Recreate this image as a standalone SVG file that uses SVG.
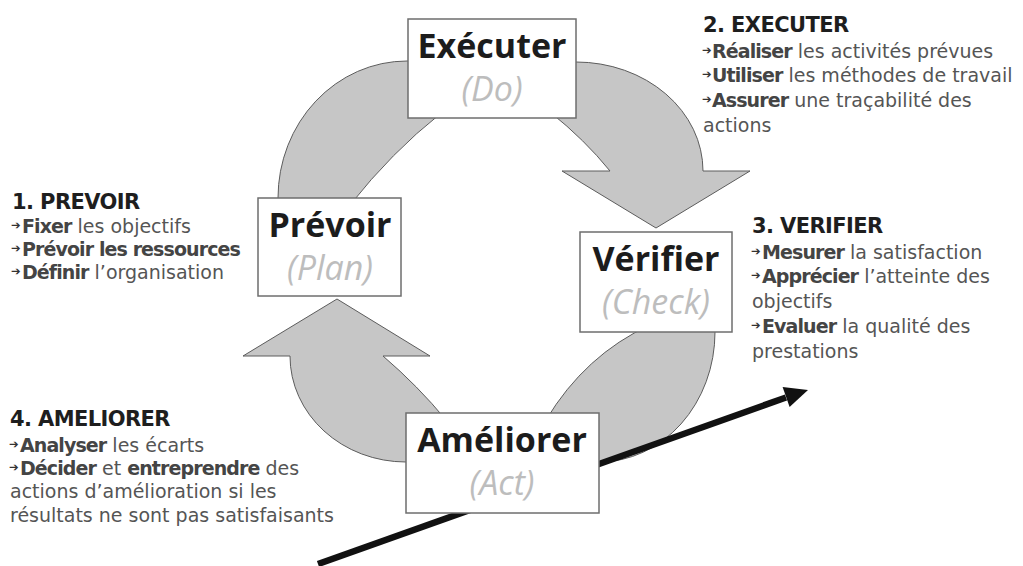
<svg xmlns="http://www.w3.org/2000/svg" width="1023" height="566" viewBox="0 0 1023 566">
<style>
.band{fill:#c6c6c6;stroke:#5c5c5c;stroke-width:1}
.box{fill:#fff;stroke:#6e6e6e;stroke-width:1.5}
.bt{font-family:"Open Sans","Noto Sans",sans-serif;font-weight:700;font-size:34px;fill:#1c1c1c;text-anchor:middle}
.bs{font-family:"Open Sans","Noto Sans",sans-serif;font-style:italic;font-size:34px;fill:#bdbdbd;text-anchor:middle}
.t{font-family:"DejaVu Sans","Liberation Sans",sans-serif;font-size:19px;fill:#555}
.h{font-weight:700;font-size:21px;letter-spacing:-0.6px;fill:#1e1e1e}
.k{font-weight:700;letter-spacing:-0.9px;fill:#444}
.ar{font-size:11.5px;fill:#333}
</style>
<g id="connectors">
<path class="band" d="M278 215 L278 198 A129 137 0 0 1 407 61 L440 61 L440 114 Q392 152 350 205 Z"/>
<path class="band" d="M550 62 L576 62 A127 109 0 0 1 703 171 L750 171 L656 228 L562 171 L610 171 Q585 140 550 112 Z"/>
<path class="band" d="M715 325 L715 332 A116 130 0 0 1 599 462 L580 462 L546 420 Q585 355 650 325 Z"/>
<path class="band" d="M420 462 L406 462 A116 106 0 0 1 290 356 L243 356 L337 299 L430 356 L383 356 Q418 386 446 420 L420 420 Z"/>
<line x1="318" y1="564" x2="786" y2="397.5" stroke="#111" stroke-width="6.5"/>
<polygon points="808,390 782.6,387.1 789.6,406.9" fill="#111"/>
</g>
<g id="executer">
<rect class="box" x="408" y="19" width="168" height="99"/>
<text class="bt" x="492" y="58">Exécuter</text>
<text class="bs" x="492" y="101">(Do)</text>
</g>
<g id="prevoir">
<rect class="box" x="258" y="198" width="143" height="98"/>
<text class="bt" x="330" y="237">Prévoir</text>
<text class="bs" x="330" y="280">(Plan)</text>
</g>
<g id="verifier">
<rect class="box" x="580" y="232" width="152" height="100"/>
<text class="bt" x="656" y="271">Vérifier</text>
<text class="bs" x="656" y="314">(Check)</text>
</g>
<g id="ameliorer">
<rect class="box" x="406" y="413" width="193" height="100"/>
<text class="bt" x="502" y="452">Améliorer</text>
<text class="bs" x="502" y="495">(Act)</text>
</g>
<g id="text-prevoir">
<text class="t"><tspan class="h" x="12" y="209">1. PREVOIR</tspan><tspan class="ar" x="11" y="229">➔</tspan><tspan x="22" y="233"><tspan class="k">Fixer</tspan> les objectifs</tspan><tspan class="ar" x="11" y="252">➔</tspan><tspan class="k" x="22" y="256">Prévoir les ressources</tspan><tspan class="ar" x="11" y="275">➔</tspan><tspan x="22" y="279"><tspan class="k">Définir</tspan> l’organisation</tspan></text>
</g>
<g id="text-executer">
<text class="t"><tspan class="h" x="703" y="32">2. EXECUTER</tspan><tspan class="ar" x="702" y="54">➔</tspan><tspan x="712" y="58"><tspan class="k">Réaliser</tspan> les activités prévues</tspan><tspan class="ar" x="702" y="78">➔</tspan><tspan x="712" y="82"><tspan class="k">Utiliser</tspan> les méthodes de travail</tspan><tspan class="ar" x="702" y="103">➔</tspan><tspan x="712" y="107"><tspan class="k">Assurer</tspan> une traçabilité des</tspan><tspan x="703" y="132">actions</tspan></text>
</g>
<g id="text-verifier">
<text class="t"><tspan class="h" x="752" y="233">3. VERIFIER</tspan><tspan class="ar" x="751" y="255">➔</tspan><tspan x="762" y="259"><tspan class="k">Mesurer</tspan> la satisfaction</tspan><tspan class="ar" x="751" y="279">➔</tspan><tspan x="762" y="283"><tspan class="k">Apprécier</tspan> l’atteinte des</tspan><tspan x="752" y="308">objectifs</tspan><tspan class="ar" x="751" y="329">➔</tspan><tspan x="762" y="333"><tspan class="k">Evaluer</tspan> la qualité des</tspan><tspan x="752" y="358">prestations</tspan></text>
</g>
<g id="text-ameliorer">
<text class="t"><tspan class="h" x="10" y="426">4. AMELIORER</tspan><tspan class="ar" x="9" y="448">➔</tspan><tspan x="20" y="452"><tspan class="k">Analyser</tspan> les écarts</tspan><tspan class="ar" x="9" y="471">➔</tspan><tspan x="20" y="475"><tspan class="k">Décider</tspan> et <tspan class="k">entreprendre</tspan> des</tspan><tspan x="10" y="498">actions d’amélioration si les</tspan><tspan x="10" y="522">résultats ne sont pas satisfaisants</tspan></text>
</g>
</svg>
